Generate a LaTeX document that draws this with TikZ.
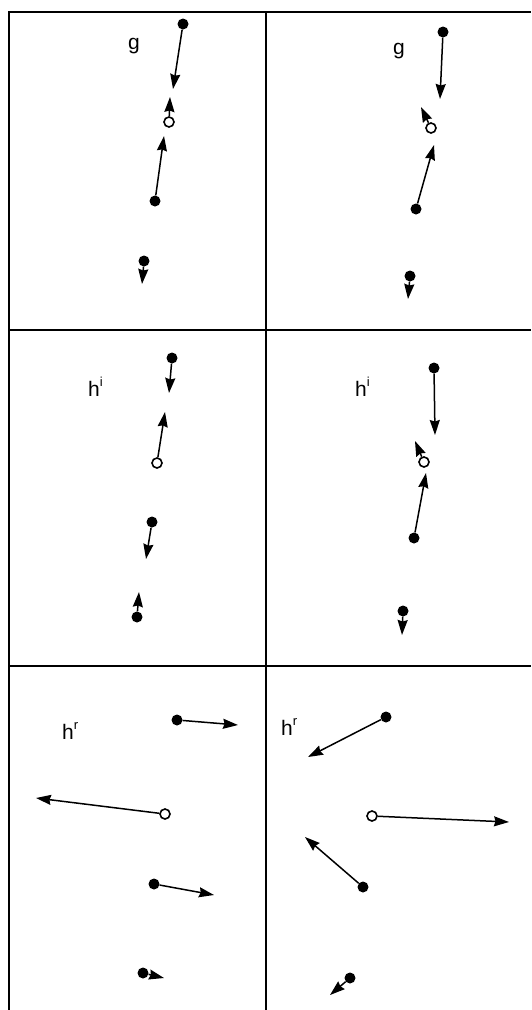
\documentclass[tikz,border=0pt]{standalone}
\usepackage{fontspec}
\setmainfont{Liberation Sans}
\usetikzlibrary{arrows.meta}
\newcommand{\supr}[1]{\raisebox{10pt}{\fontsize{13}{13}\selectfont #1}}
\begin{document}
\begin{tikzpicture}[x=1pt,y=-1pt,
  frame/.style={line width=2pt},
  pt/.style={circle,fill=black,inner sep=0pt,minimum size=11pt},
  opt/.style={circle,draw=black,fill=white,line width=1.6pt,inner sep=0pt,minimum size=10pt},
  vec/.style={line width=1.5pt,-{Stealth[length=15pt,width=10pt,inset=1.5pt]}},
  lbl/.style={anchor=base west,inner sep=0pt,font=\fontsize{21}{21}\selectfont}]
\useasboundingbox (0,0) rectangle (531,1010);
% frame
\draw[frame] (9,1010) -- (9,12) -- (531,12);
\draw[frame] (266,12) -- (266,1010);
\draw[frame] (9,330) -- (531,330);
\draw[frame] (9,666) -- (531,666);
% labels
\node[lbl] (g1) at (128,49) {g};
\node[lbl] (g2) at (393,54) {g};
\node[lbl] (hi1) at (88,396) {h\supr{i}};
\node[lbl] (hi2) at (355,396) {h\supr{i}};
\node[lbl] (hr1) at (62,739) {h\supr{r}};
\node[lbl] (hr2) at (281,735) {h\supr{r}};
% panel 1
\node[pt] (a1) at (183,24) {}; \coordinate (ta1) at (173,89);
\node[opt] (o1) at (169,122) {}; \coordinate (to1) at (170,97);
\node[pt] (b1) at (155,201) {}; \coordinate (tb1) at (164,136);
\node[pt] (c1) at (144,261) {}; \coordinate (tc1) at (142,284);
\draw[vec] (a1) -- (ta1); \draw[vec] (o1) -- (to1);
\draw[vec] (b1) -- (tb1); \draw[vec] (c1) -- (tc1);
% panel 2
\node[pt] (a2) at (443,32) {}; \coordinate (ta2) at (440,99);
\node[opt] (o2) at (431,128) {}; \coordinate (to2) at (421,107);
\node[pt] (b2) at (416,209) {}; \coordinate (tb2) at (434,145);
\node[pt] (c2) at (410,276) {}; \coordinate (tc2) at (408,299);
\draw[vec] (a2) -- (ta2); \draw[vec] (o2) -- (to2);
\draw[vec] (b2) -- (tb2); \draw[vec] (c2) -- (tc2);
% panel 3
\node[pt] (a3) at (172,358) {}; \coordinate (ta3) at (169,393);
\node[opt] (o3) at (157,463) {}; \coordinate (to3) at (165,412);
\node[pt] (b3) at (152,522) {}; \coordinate (tb3) at (146,559);
\node[pt] (c3) at (137,617) {}; \coordinate (tc3) at (139,592);
\draw[vec] (a3) -- (ta3); \draw[vec] (o3) -- (to3);
\draw[vec] (b3) -- (tb3); \draw[vec] (c3) -- (tc3);
% panel 4
\node[pt] (a4) at (434,368) {}; \coordinate (ta4) at (435,435);
\node[opt] (o4) at (424,462) {}; \coordinate (to4) at (415,441);
\node[pt] (b4) at (414,538) {}; \coordinate (tb4) at (426,473);
\node[pt] (c4) at (403,611) {}; \coordinate (tc4) at (402,635);
\draw[vec] (a4) -- (ta4); \draw[vec] (o4) -- (to4);
\draw[vec] (b4) -- (tb4); \draw[vec] (c4) -- (tc4);
% panel 5
\node[pt] (a5) at (177,720) {}; \coordinate (ta5) at (238,725);
\node[opt] (o5) at (165,814) {}; \coordinate (to5) at (36,798);
\node[pt] (b5) at (154,884) {}; \coordinate (tb5) at (214,895);
\node[pt] (c5) at (143,973) {}; \coordinate (tc5) at (164,978);
\draw[vec] (a5) -- (ta5); \draw[vec] (o5) -- (to5);
\draw[vec] (b5) -- (tb5); \draw[vec] (c5) -- (tc5);
% panel 6
\node[pt] (a6) at (386,717) {}; \coordinate (ta6) at (308,757);
\node[opt] (o6) at (372,816) {}; \coordinate (to6) at (509,822);
\node[pt] (b6) at (363,887) {}; \coordinate (tb6) at (305,837);
\node[pt] (c6) at (350,978) {}; \coordinate (tc6) at (330,995);
\draw[vec] (a6) -- (ta6); \draw[vec] (o6) -- (to6);
\draw[vec] (b6) -- (tb6); \draw[vec] (c6) -- (tc6);
\end{tikzpicture}
\end{document}
